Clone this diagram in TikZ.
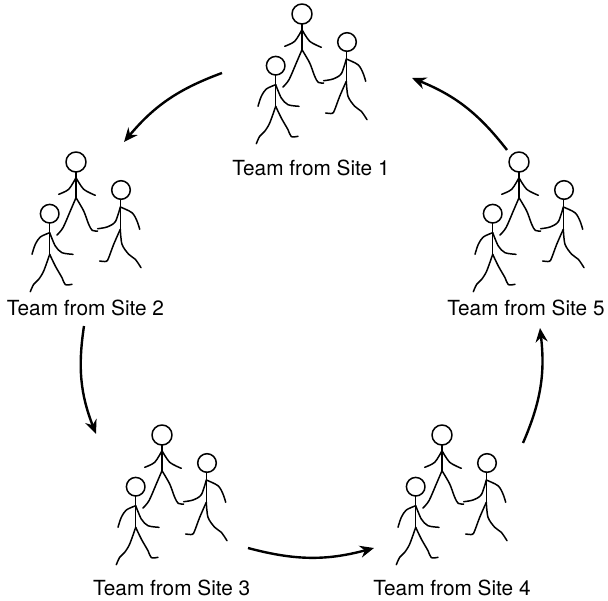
\documentclass[tikz,border=0pt]{standalone}
\usepackage{fontspec}
\setmainfont{TeX Gyre Heros}
\usetikzlibrary{arrows.meta,positioning}

\begin{document}
\begin{tikzpicture}[
  x=0.5pt,y=0.5pt,
  every node/.style={font=\fontsize{10.4}{12}\selectfont,align=center,inner sep=0pt},
  limb/.style={line width=0.75pt,line cap=round,line join=round},
  arrow/.style={-{Stealth[length=7pt,width=6pt]},line width=1.2pt},
  team/.pic={
    % back walker
    \draw[limb] (0,0) circle[radius=10];
    \draw[limb] (0,-10) -- (0,-35.7);
    \draw[limb] plot[smooth] coordinates {(0,-15.7) (-7.3,-27.3) (-17.3,-32.3)};
    \draw[limb] plot[smooth] coordinates {(0,-15.7) (7.7,-27.3) (19.3,-33.3)};
    \draw[limb] plot[smooth] coordinates {(0,-35.7) (-5.7,-49) (-13,-65.7) (-19,-73)};
    \draw[limb] plot[smooth] coordinates {(0,-35.7) (7.7,-49) (12.7,-62.3) (16.3,-68.4) (21.7,-69)};
    % right walker
    \draw[limb] (45,-28) circle[radius=9.3];
    \draw[limb] (44.3,-37.3) -- (44.3,-67.3);
    \draw[limb] plot[smooth] coordinates {(44.3,-45) (39.3,-59.7) (31,-65) (21.7,-66.7)};
    \draw[limb] plot[smooth] coordinates {(44.3,-45) (56,-50.7) (61,-59) (63.7,-67.3)};
    \draw[limb] plot[smooth] coordinates {(44.3,-67.3) (37.7,-82.3) (32.7,-95.7) (30.3,-99.4) (23.7,-99)};
    \draw[limb] plot[smooth] coordinates {(44.3,-67.3) (46,-82.3) (52.7,-92.3) (59.3,-97.3) (65,-105.7)};
    % front walker
    \draw[limb] (-26.3,-51.7) circle[radius=9.3];
    \draw[limb] (-26.3,-61) -- (-26.3,-92.3);
    \draw[limb] plot[smooth] coordinates {(-26.3,-70.7) (-35.7,-75) (-40.7,-82.3) (-44,-92.3)};
    \draw[limb] plot[smooth] coordinates {(-26.3,-70.7) (-20.7,-84) (-14,-90.7) (-3,-92.3)};
    \draw[limb] plot[smooth] coordinates {(-26.3,-92.3) (-32.3,-109) (-37.3,-117.3) (-42.3,-122.3) (-45.7,-129.7)};
    \draw[limb] plot[smooth] coordinates {(-26.3,-92.3) (-20.7,-104) (-14,-115.7) (-10.7,-122.6) (-4,-122.3)};
  }
]
\useasboundingbox (0,0) rectangle (608,600);

% the five teams
\pic at (302,586) {team};
\pic at (76,438)  {team};
\pic at (162,165) {team};
\pic at (442,165) {team};
\pic at (519,438) {team};

\node (site1) at (311,432)   {Team from Site 1};
\node (site2) at (85.5,292)  {Team from Site 2};
\node (site3) at (171.7,12.5) {Team from Site 3};
\node (site4) at (452,12.5)  {Team from Site 4};
\node (site5) at (526,292)   {Team from Site 5};

% ends of the hand-over arrows
\coordinate (s12) at (222,527);  \coordinate (e12) at (124,458);
\coordinate (s23) at (84,274);   \coordinate (e23) at (96,166);
\coordinate (s34) at (248,52);   \coordinate (e34) at (374,52);
\coordinate (s45) at (523,157);  \coordinate (e45) at (540,272);
\coordinate (s51) at (507,450);  \coordinate (e51) at (412,522);

\foreach \a in {12,23,34,45,51} { \draw[arrow] (s\a) to[bend right=15] (e\a); }

\end{tikzpicture}
\end{document}
